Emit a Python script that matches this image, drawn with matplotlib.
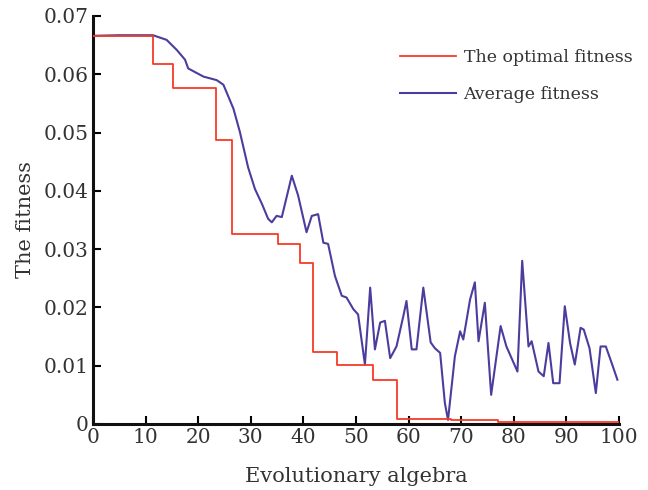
import matplotlib
matplotlib.use("Agg")
import matplotlib.pyplot as plt

# Optimal fitness (step function): breakpoints
opt_x = [0, 11.5, 15.2, 23.4, 26.4, 35.2, 39.4, 41.9, 46.3, 53.2, 57.8, 68.0, 77.0, 100]
opt_y = [0.0665, 0.0617, 0.0576, 0.0487, 0.0326, 0.0309, 0.0276, 0.0124, 0.0102,
         0.0076, 0.0008, 0.0006, 0.0003, 0.0003]

# Average fitness
avg_x = [0, 5, 11.4, 14.0, 15.9, 17.5, 18.1, 21.0, 23.5, 24.8, 26.7, 27.9, 29.5, 30.8,
         32.1, 33.3, 34.0, 34.9, 35.9, 37.8, 39.0, 40.6, 41.6, 42.8, 43.8, 44.7, 46.0,
         47.3, 48.2, 49.5, 50.4, 51.7, 52.7, 53.6, 54.6, 55.5, 56.5, 57.7, 59.0, 59.6,
         60.6, 61.5, 62.8, 64.2, 65.0, 66.0, 66.9, 67.5, 68.8, 69.8, 70.4, 71.7, 72.6,
         73.3, 74.5, 75.7, 77.5, 78.6, 80.7, 81.6, 82.8, 83.4, 84.7, 85.7, 86.6, 87.5,
         88.7, 89.7, 90.7, 91.6, 92.7, 93.3, 94.4, 95.6, 96.5, 97.5, 98.6, 99.7]
avg_y = [0.0666, 0.0667, 0.0667, 0.0659, 0.0642, 0.0625, 0.0610, 0.0596, 0.0590, 0.0582,
         0.0541, 0.0502, 0.0440, 0.0403, 0.0378, 0.0352, 0.0346, 0.0357, 0.0355, 0.0426,
         0.0392, 0.0329, 0.0357, 0.0360, 0.0311, 0.0309, 0.0254, 0.0220, 0.0217, 0.0197,
         0.0188, 0.0102, 0.0234, 0.0128, 0.0174, 0.0177, 0.0113, 0.0133, 0.0185, 0.0211,
         0.0128, 0.0128, 0.0234, 0.0140, 0.0130, 0.0122, 0.0036, 0.0007, 0.0116, 0.0159,
         0.0145, 0.0214, 0.0243, 0.0142, 0.0208, 0.0050, 0.0168, 0.0133, 0.0090, 0.0280,
         0.0133, 0.0142, 0.0090, 0.0082, 0.0139, 0.0070, 0.0070, 0.0202, 0.0139, 0.0102,
         0.0165, 0.0162, 0.0130, 0.0053, 0.0133, 0.0133, 0.0105, 0.0076]

x_ticks = [0, 10, 20, 30, 40, 50, 60, 70, 80, 90, 100]
y_ticks = [0, 0.01, 0.02, 0.03, 0.04, 0.05, 0.06, 0.07]
y_tick_labels = ["0", "0.01", "0.02", "0.03", "0.04", "0.05", "0.06", "0.07"]

font = "DejaVu Serif"
tcol = "#333333"

fig = plt.figure(figsize=(6.48, 4.90), dpi=100)
ax = fig.add_axes([0.1435, 0.1347, 0.8117, 0.8327])

ax.plot(opt_x, opt_y, drawstyle="steps-post", color="#f73a25", lw=1.3,
        label="The optimal fitness", zorder=3)
ax.plot(avg_x, avg_y, color="#4b3d9e", lw=1.5, label="Average fitness", zorder=2)

ax.set_xlim(0, 100)
ax.set_ylim(0, 0.07)
ax.set_xticks(x_ticks)
ax.set_xticklabels([str(v) for v in x_ticks], fontfamily=font, fontsize=14.5, color=tcol)
ax.set_yticks(y_ticks)
ax.set_yticklabels(y_tick_labels, fontfamily=font, fontsize=14.5, color=tcol)
ax.tick_params(direction="in", length=6, width=1.5, pad=3)

for s in ["top", "right"]:
    ax.spines[s].set_visible(False)
for s in ["left", "bottom"]:
    ax.spines[s].set_linewidth(2.2)
    ax.spines[s].set_color("#111111")

ax.set_xlabel("Evolutionary algebra", fontfamily=font, fontsize=15, color=tcol, labelpad=14)
ax.set_ylabel("The fitness", fontfamily=font, fontsize=15, color=tcol, labelpad=6)

leg = ax.legend(loc="center left", bbox_to_anchor=(0.584, 0.852), frameon=False,
                borderpad=0, borderaxespad=0,
                prop={"family": font, "size": 12.5}, handlelength=3.2,
                labelspacing=1.15, handletextpad=0.45)
for t in leg.get_texts():
    t.set_color(tcol)

fig.savefig("out.png", dpi=100)
